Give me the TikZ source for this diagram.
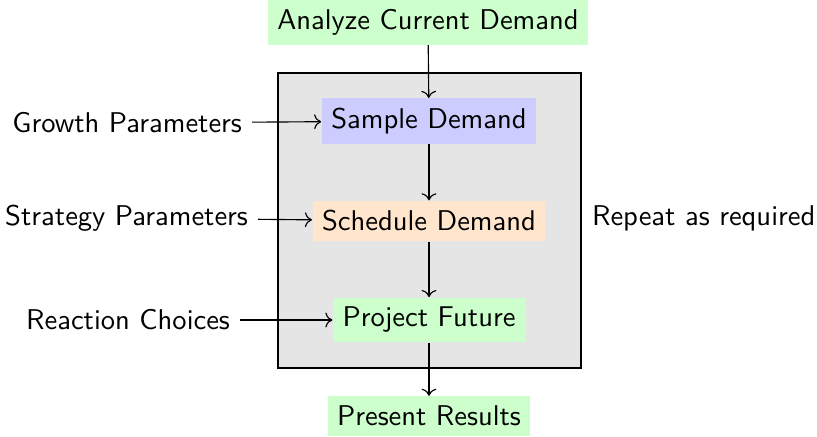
\documentclass[tikz,border=0pt]{standalone}
\usetikzlibrary{arrows.meta}
\begin{document}
\begin{tikzpicture}[x=0.35pt,y=-0.35pt,font=\sffamily,
  stage/.style={inner sep=3.33pt},
  label/.style={inner sep=3.33pt},
  flow/.style={->}]
\useasboundingbox (0,0) rectangle (817,437);
% repeated block
\draw[fill=gray!20] (278,73) rectangle (581,368);
% stages
\node[stage,fill=green!20]  (analyze)  at (428,22)  {Analyze Current Demand};
\node[stage,fill=blue!20]   (sample)   at (429,121) {Sample Demand};
\node[stage,fill=orange!20] (schedule) at (429,221) {Schedule Demand};
\node[stage,fill=green!20]  (project)  at (429,320) {Project Future};
\node[stage,fill=green!20]  (present)  at (429,416) {Present Results};
% inputs
\node[label,anchor=east] (growth)   at (252,123) {Growth Parameters};
\node[label,anchor=east] (strategy) at (258,218) {Strategy Parameters};
\node[label,anchor=east] (reaction) at (240,320) {Reaction Choices};
\node[label,anchor=west] (repeat)   at (582,218) {Repeat as required};
% connectors
\draw[flow] (analyze) -- (sample);
\draw[flow] (sample) -- (schedule);
\draw[flow] (schedule) -- (project);
\draw[flow] (project) -- (present);
\draw[flow] (growth) -- (sample);
\draw[flow] (strategy) -- (schedule);
\draw[flow] (reaction) -- (project);
\end{tikzpicture}
\end{document}
